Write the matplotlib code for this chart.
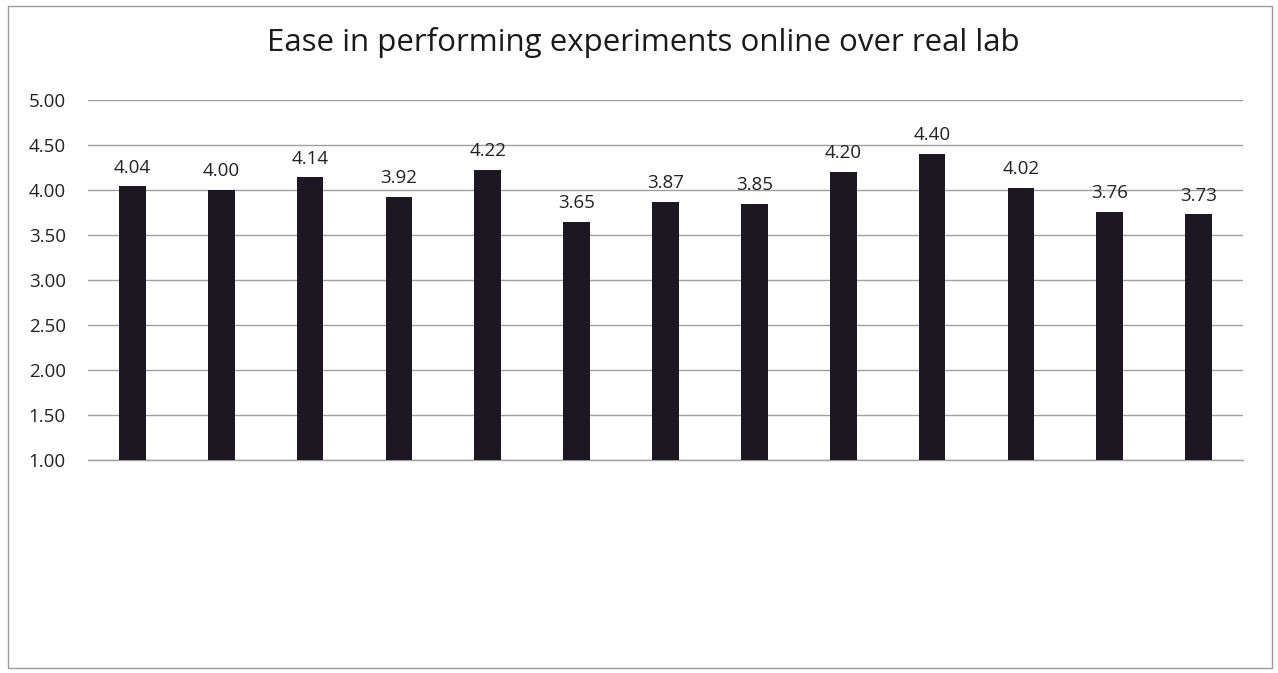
import numpy as np
import matplotlib.pyplot as plt
from matplotlib.patches import Rectangle

title = "Ease in performing experiments online over real lab"
values = [4.04, 4.00, 4.14, 3.92, 4.22, 3.65, 3.87, 3.85, 4.20, 4.40, 4.02, 3.76, 3.73]
yticks = [1.00, 1.50, 2.00, 2.50, 3.00, 3.50, 4.00, 4.50, 5.00]

plt.rcParams['font.family'] = ['Open Sans', 'DejaVu Sans']

fig = plt.figure(figsize=(12.78, 6.73), dpi=100)
ax = fig.add_axes([88 / 1278, 1 - 460 / 673, 1155 / 1278, 360 / 673])

x = np.arange(len(values))
bottom = yticks[0]
ax.bar(x, np.array(values) - bottom, bottom=bottom, width=0.3, color='#1c1721', zorder=3)

for xi, v in zip(x, values):
    ax.annotate("%.2f" % v, (xi, v), xytext=(0, 7), textcoords='offset points',
                ha='center', va='bottom', fontsize=13.5, color='#222222')

ax.set_xlim(-0.5, len(values) - 0.5)
ax.set_ylim(yticks[0], yticks[-1])
ax.set_yticks(yticks)
ax.set_yticklabels(["%.2f" % t for t in yticks], fontsize=13.5, color='#222222')
ax.set_xticks([])
ax.tick_params(axis='y', length=0, pad=16)
ax.yaxis.grid(True, color='#a0a0a0', linewidth=1, zorder=0)
ax.axhline(yticks[0], color='#a0a0a0', linewidth=1, zorder=1, clip_on=False)
for s in ax.spines.values():
    s.set_visible(False)
ax.set_facecolor('none')

fig.text(643 / 1278, 1 - 42 / 673, title, ha='center', va='center',
         fontsize=22.5, color='#1a1a1a')

# chart border
fig.patches.append(Rectangle((8 / 1278, 5 / 673), 1264 / 1278, 662 / 673,
                             transform=fig.transFigure, fill=False,
                             edgecolor='#9a9a9a', linewidth=1))

fig.savefig("out.png", dpi=100)
